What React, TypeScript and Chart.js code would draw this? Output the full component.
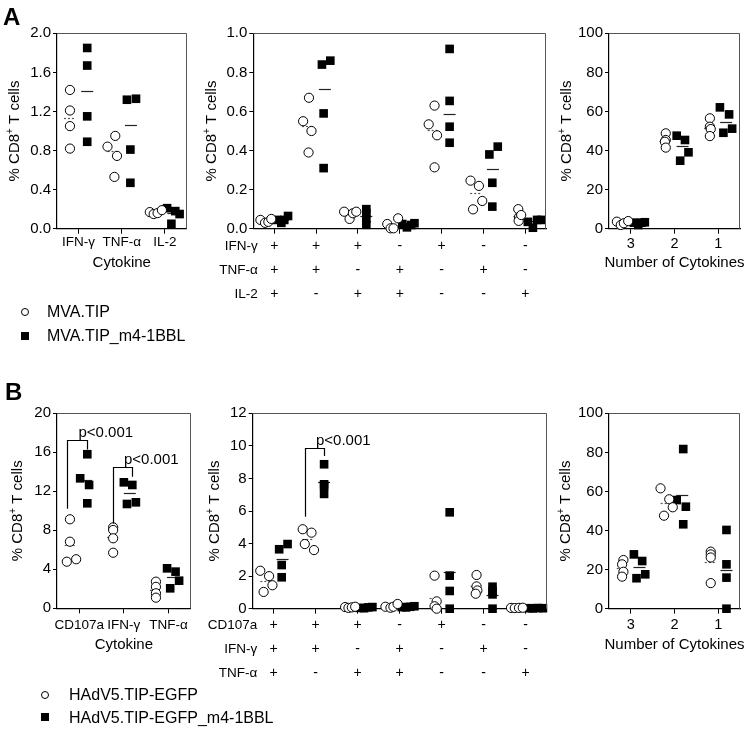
import React, { useEffect, useRef } from 'react';
import { Chart, registerables } from 'chart.js';

Chart.register(...registerables);

const FONT = '"Liberation Sans", Arial, Helvetica, sans-serif';
const W = 750;
const H = 729;

// ---------------- Panel A data ----------------
const aCytokines = ['IFN-γ', 'TNF-α', 'IL-2'];
const aLeftTicks = [0, 0.4, 0.8, 1.2, 1.6, 2.0];
const aLeftOpenY = [[1.42, 1.21, 1.05, 0.82], [0.95, 0.84, 0.745, 0.53], [0.17, 0.15, 0.16, 0.19]];
const aLeftOpenDx = [[-0.2, -0.2, -0.2, -0.2], [-0.15, -0.33, -0.11, -0.17], [-0.35, -0.26, -0.17, -0.07]];
const aLeftFilledY = [[1.85, 1.67, 1.15, 0.89], [1.32, 1.33, 0.81, 0.47], [0.21, 0.05, 0.18, 0.15]];
const aLeftFilledDx = [[0.2, 0.2, 0.2, 0.2], [0.12, 0.33, 0.2, 0.2], [0.05, 0.15, 0.24, 0.34]];

const aComboRowLabels = ['IFN-γ', 'TNF-α', 'IL-2'];
const aComboIFN = ['+', '+', '+', '-', '+', '-', '-'];
const aComboTNF = ['+', '+', '-', '+', '-', '+', '-'];
const aComboIL2 = ['+', '-', '+', '+', '-', '-', '+'];
const aMidTicks = [0, 0.2, 0.4, 0.6, 0.8, 1.0];
const aMidOpenY = [
  [0.045, 0.03, 0.035, 0.05],
  [0.67, 0.55, 0.5, 0.39],
  [0.087, 0.05, 0.079, 0.087],
  [0.024, 0.002, 0.002, 0.053],
  [0.63, 0.534, 0.478, 0.314],
  [0.246, 0.219, 0.142, 0.099],
  [0.1, 0.06, 0.04, 0.07],
];
const aMidOpenDx = [
  [-0.33, -0.22, -0.14, -0.07],
  [-0.17, -0.31, -0.11, -0.18],
  [-0.33, -0.2, -0.12, -0.04],
  [-0.3, -0.22, -0.15, -0.04],
  [-0.17, -0.31, -0.11, -0.17],
  [-0.31, -0.11, -0.03, -0.25],
  [-0.17, -0.15, -0.16, -0.1],
];
const aMidFilledY = [
  [0.045, 0.03, 0.045, 0.065],
  [0.84, 0.86, 0.59, 0.31],
  [0.1, 0.08, 0.05, 0.02],
  [0.024, 0.007, 0.019, 0.028],
  [0.92, 0.654, 0.522, 0.44],
  [0.38, 0.42, 0.235, 0.113],
  [0.035, 0.005, 0.045, 0.045],
];
const aMidFilledDx = [
  [0.07, 0.17, 0.24, 0.33],
  [0.14, 0.34, 0.18, 0.18],
  [0.2, 0.2, 0.2, 0.2],
  [0.06, 0.17, 0.27, 0.35],
  [0.19, 0.19, 0.19, 0.19],
  [0.14, 0.34, 0.21, 0.21],
  [0.06, 0.18, 0.28, 0.38],
];

const cytokineCounts = ['3', '2', '1'];
const pctTicks = [0, 20, 40, 60, 80, 100];
const aRightOpenY = [[3.6, 1.9, 2.8, 3.9], [48.8, 45.4, 44.5, 41.5], [56.5, 52.2, 51.0, 47.4]];
const aRightOpenDx = [[-0.32, -0.23, -0.16, -0.06], [-0.2, -0.2, -0.22, -0.2], [-0.19, -0.19, -0.17, -0.19]];
const aRightFilledY = [[3.1, 1.9, 3.1, 3.3], [47.6, 45.4, 39.1, 34.8], [62.1, 58.5, 51.2, 49.1]];
const aRightFilledDx = [[0.07, 0.17, 0.25, 0.32], [0.05, 0.24, 0.32, 0.13], [0.04, 0.25, 0.32, 0.12]];

// ---------------- Panel B data ----------------
const bMarkers = ['CD107a', 'IFN-γ', 'TNF-α'];
const bLeftTicks = [0, 4, 8, 12, 16, 20];
const bLeftOpenY = [[9.13, 6.83, 4.78, 5.03], [8.3, 8.03, 7.18, 5.7], [2.73, 2.2, 1.54, 1.09]];
const bLeftOpenDx = [[-0.21, -0.21, -0.28, -0.07], [-0.24, -0.24, -0.24, -0.24], [-0.28, -0.28, -0.28, -0.28]];
const bLeftFilledY = [[15.8, 13.33, 12.65, 10.77], [12.92, 12.65, 10.7, 10.87], [4.1, 3.76, 2.83, 2.05]];
const bLeftFilledDx = [[0.18, 0.02, 0.22, 0.18], [0.0, 0.19, 0.07, 0.27], [-0.03, 0.16, 0.24, 0.04]];
const bLeftBracketX = [[-0.28, 0.17], [0.76, 1.19]];
const bLeftBracketY = [[10.2, 17.3, 16.3], [8.7, 14.5, 13.5]];
const pLabel = 'p<0.001';

const bComboRowLabels = ['CD107a', 'IFN-γ', 'TNF-α'];
const bComboCD107a = ['+', '+', '+', '-', '+', '-', '-'];
const bComboIFN = ['+', '+', '-', '+', '-', '+', '-'];
const bComboTNF = ['+', '-', '+', '+', '-', '-', '+'];
const bMidTicks = [0, 2, 4, 6, 8, 10, 12];
const bMidOpenY = [
  [2.33, 2.0, 1.44, 1.03],
  [4.88, 4.67, 3.97, 3.6],
  [0.1, 0.05, 0.08, 0.12],
  [0.12, 0.06, 0.12, 0.29],
  [2.03, 0.45, 0.15, 0.0],
  [2.07, 1.37, 1.12, 0.92],
  [0.05, 0.04, 0.05, 0.06],
];
const bMidOpenDx = [
  [-0.32, -0.11, -0.03, -0.24],
  [-0.31, -0.1, -0.26, -0.04],
  [-0.3, -0.22, -0.14, -0.06],
  [-0.34, -0.22, -0.15, -0.05],
  [-0.17, -0.12, -0.17, -0.12],
  [-0.17, -0.17, -0.15, -0.19],
  [-0.35, -0.26, -0.16, -0.07],
];
const bMidFilledY = [
  [3.65, 3.97, 2.68, 1.93],
  [8.87, 7.64, 7.54, 7.05],
  [0.05, 0.03, 0.08, 0.1],
  [0.1, 0.08, 0.12, 0.15],
  [5.92, 2.03, 1.09, 0.0],
  [1.35, 1.1, 0.88, 0.0],
  [0.03, 0.02, 0.04, 0.03],
];
const bMidFilledDx = [
  [0.13, 0.33, 0.19, 0.19],
  [0.2, 0.2, 0.2, 0.2],
  [0.05, 0.15, 0.25, 0.35],
  [0.05, 0.15, 0.25, 0.35],
  [0.19, 0.19, 0.19, 0.19],
  [0.21, 0.21, 0.21, 0.21],
  [0.08, 0.17, 0.29, 0.41],
];
const bMidBracketX = [[0.74, 1.2]];
const bMidBracketY = [[5.65, 9.85, 9.38]];

const bRightOpenY = [[24.9, 22.7, 18.9, 16.4], [61.6, 56.0, 51.9, 47.6], [29.2, 27.8, 26.2, 13.1]];
const bRightOpenDx = [[-0.17, -0.2, -0.17, -0.2], [-0.32, -0.12, -0.04, -0.24], [-0.17, -0.17, -0.17, -0.17]];
const bRightFilledY = [[27.8, 24.4, 15.6, 17.6], [81.7, 55.6, 52.2, 43.2], [40.3, 22.7, 15.9, 0.0]];
const bRightFilledDx = [[0.07, 0.26, 0.13, 0.33], [0.2, 0.05, 0.26, 0.2], [0.19, 0.19, 0.19, 0.19]];

const legendA = ['MVA.TIP', 'MVA.TIP_m4-1BBL'];
const legendB = ['HAdV5.TIP-EGFP', 'HAdV5.TIP-EGFP_m4-1BBL'];
const yTitleMain = '% CD8';
const yTitleSup = '+';
const yTitleRest = ' T cells';
const xTitleCytokine = 'Cytokine';
const xTitleNumber = 'Number of Cytokines';

type Spec = {
  area: [number, number, number, number];
  n: number;
  catLabels?: string[];
  labelY?: number;
  labelSize?: number;
  xTitle?: string;
  xTitleY?: number;
  rows?: { labels: string[]; signs: string[][]; start: number; gap: number };
  yTicks: number[];
  yDec: number;
  yTitleX: number;
  openY: number[][];
  openDx: number[][];
  filledY: number[][];
  filledDx: number[][];
  center: 'median' | 'mean';
  bracketX?: number[][];
  bracketY?: number[][];
};

const specs: Spec[] = [
  {
    area: [57, 33.3, 186.5, 228.7], n: 3, catLabels: aCytokines, labelY: 242, labelSize: 13.5,
    xTitle: xTitleCytokine, xTitleY: 262.5, yTicks: aLeftTicks, yDec: 1, yTitleX: 15,
    openY: aLeftOpenY, openDx: aLeftOpenDx, filledY: aLeftFilledY, filledDx: aLeftFilledDx, center: 'median',
  },
  {
    area: [253.3, 33.3, 546.3, 228.7], n: 7,
    rows: { labels: aComboRowLabels, signs: [aComboIFN, aComboTNF, aComboIL2], start: 17.5, gap: 24 },
    yTicks: aMidTicks, yDec: 1, yTitleX: 212,
    openY: aMidOpenY, openDx: aMidOpenDx, filledY: aMidFilledY, filledDx: aMidFilledDx, center: 'median',
  },
  {
    area: [609, 33.3, 740, 228.7], n: 3, catLabels: cytokineCounts, labelY: 244, labelSize: 14.5,
    xTitle: xTitleNumber, xTitleY: 263, yTicks: pctTicks, yDec: 0, yTitleX: 567,
    openY: aRightOpenY, openDx: aRightOpenDx, filledY: aRightFilledY, filledDx: aRightFilledDx, center: 'median',
  },
  {
    area: [57, 413.3, 190.7, 608.3], n: 3, catLabels: bMarkers, labelY: 625, labelSize: 13.5,
    xTitle: xTitleCytokine, xTitleY: 645, yTicks: bLeftTicks, yDec: 0, yTitleX: 18,
    openY: bLeftOpenY, openDx: bLeftOpenDx, filledY: bLeftFilledY, filledDx: bLeftFilledDx, center: 'mean',
    bracketX: bLeftBracketX, bracketY: bLeftBracketY,
  },
  {
    area: [252.7, 413.3, 546.7, 608.7], n: 7,
    rows: { labels: bComboRowLabels, signs: [bComboCD107a, bComboIFN, bComboTNF], start: 16.5, gap: 23.8 },
    yTicks: bMidTicks, yDec: 0, yTitleX: 215,
    openY: bMidOpenY, openDx: bMidOpenDx, filledY: bMidFilledY, filledDx: bMidFilledDx, center: 'mean',
    bracketX: bMidBracketX, bracketY: bMidBracketY,
  },
  {
    area: [609, 413.3, 740, 608.7], n: 3, catLabels: cytokineCounts, labelY: 625, labelSize: 14.5,
    xTitle: xTitleNumber, xTitleY: 645, yTicks: pctTicks, yDec: 0, yTitleX: 566,
    openY: bRightOpenY, openDx: bRightOpenDx, filledY: bRightFilledY, filledDx: bRightFilledDx, center: 'mean',
  },
];

const avg = (a: number[]) => a.reduce((s, v) => s + v, 0) / a.length;
const median = (a: number[]) => {
  const s = [...a].sort((p, q) => p - q);
  const m = Math.floor(s.length / 2);
  return s.length % 2 ? s[m] : (s[m - 1] + s[m]) / 2;
};

function makeChart(canvas: HTMLCanvasElement, s: Spec) {
  const [L, T, R, B] = s.area;
  const YW = 50;
  const XH = 30;
  const toPts = (ys: number[][], dxs: number[][]) =>
    ys.flatMap((col, i) => col.map((v, j) => ({ x: i + dxs[i][j], y: v })));

  const decor = {
    id: 'decor',
    beforeDatasetsDraw(chart: any) {
      const ctx = chart.ctx;
      const xs = chart.scales.x;
      const ys = chart.scales.y;
      const groups: [number[][], number[][], boolean][] = [
        [s.openY, s.openDx, true],
        [s.filledY, s.filledDx, false],
      ];
      ctx.save();
      for (const [yv, dx, dashed] of groups) {
        yv.forEach((col, i) => {
          const v = s.center === 'mean' ? avg(col) : median(col);
          const px = xs.getPixelForValue(i + avg(dx[i]));
          const py = Math.round(ys.getPixelForValue(v)) + 0.5;
          ctx.beginPath();
          ctx.setLineDash(dashed ? [2, 2] : []);
          ctx.strokeStyle = dashed ? '#555' : '#222';
          ctx.lineWidth = 1.2;
          ctx.moveTo(px - 6, py);
          ctx.lineTo(px + 6, py);
          ctx.stroke();
        });
      }
      ctx.restore();
    },
    afterDraw(chart: any) {
      const ctx = chart.ctx;
      const xs = chart.scales.x;
      const ys = chart.scales.y;
      const ca = chart.chartArea;
      ctx.save();
      // frame top/right
      ctx.beginPath();
      ctx.strokeStyle = '#555';
      ctx.lineWidth = 1;
      const t = Math.round(ca.top) + 0.5;
      const r = Math.round(ca.right) - 0.5;
      ctx.moveTo(ca.left, t);
      ctx.lineTo(r, t);
      ctx.lineTo(r, ca.bottom);
      ctx.stroke();

      ctx.fillStyle = '#000';
      // y title
      ctx.save();
      ctx.translate(s.yTitleX, (ca.top + ca.bottom) / 2);
      ctx.rotate(-Math.PI / 2);
      const mainF = `15px ${FONT}`;
      const supF = `10px ${FONT}`;
      ctx.font = mainF;
      const w1 = ctx.measureText(yTitleMain).width;
      const w3 = ctx.measureText(yTitleRest).width;
      ctx.font = supF;
      const w2 = ctx.measureText(yTitleSup).width;
      let x = -(w1 + w2 + w3) / 2;
      ctx.textBaseline = 'middle';
      ctx.textAlign = 'left';
      ctx.font = mainF;
      ctx.fillText(yTitleMain, x, 0);
      x += w1;
      ctx.font = supF;
      ctx.fillText(yTitleSup, x, -5);
      x += w2;
      ctx.font = mainF;
      ctx.fillText(yTitleRest, x, 0);
      ctx.restore();

      // category labels
      ctx.textBaseline = 'middle';
      if (s.catLabels) {
        ctx.font = `${s.labelSize}px ${FONT}`;
        ctx.textAlign = 'center';
        s.catLabels.forEach((lab, i) => ctx.fillText(lab, xs.getPixelForValue(i), s.labelY));
      }
      if (s.xTitle) {
        ctx.font = `15px ${FONT}`;
        ctx.textAlign = 'center';
        ctx.fillText(s.xTitle, (ca.left + ca.right) / 2, s.xTitleY);
      }
      if (s.rows) {
        const rows = s.rows;
        rows.labels.forEach((lab, rI) => {
          const y = ca.bottom + rows.start + rI * rows.gap;
          ctx.font = `13.5px ${FONT}`;
          ctx.textAlign = 'right';
          ctx.fillText(lab, ca.left + 4.5, y);
          ctx.font = `14px ${FONT}`;
          ctx.textAlign = 'center';
          rows.signs[rI].forEach((sg, i) => ctx.fillText(sg, xs.getPixelForValue(i), y));
        });
      }
      if (s.bracketX && s.bracketY) {
        ctx.strokeStyle = '#000';
        ctx.lineWidth = 1.2;
        s.bracketX.forEach((bx, k) => {
          const by = s.bracketY![k];
          const x1 = Math.round(xs.getPixelForValue(bx[0])) + 0.5;
          const x2 = Math.round(xs.getPixelForValue(bx[1])) + 0.5;
          const yTop = Math.round(ys.getPixelForValue(by[1])) + 0.5;
          ctx.beginPath();
          ctx.moveTo(x1, ys.getPixelForValue(by[0]));
          ctx.lineTo(x1, yTop);
          ctx.lineTo(x2, yTop);
          ctx.lineTo(x2, ys.getPixelForValue(by[2]));
          ctx.stroke();
          ctx.font = `15px ${FONT}`;
          ctx.textAlign = 'left';
          ctx.textBaseline = 'alphabetic';
          ctx.fillText(pLabel, (x1 + x2) / 2 + 1, yTop - 4);
        });
      }
      ctx.restore();
    },
  };

  const yMax = s.yTicks[s.yTicks.length - 1];
  return new Chart(canvas, {
    type: 'scatter',
    data: {
      datasets: [
        {
          data: toPts(s.openY, s.openDx),
          pointStyle: 'circle',
          pointRadius: 4.6,
          pointHoverRadius: 4.6,
          pointBackgroundColor: '#fff',
          pointBorderColor: '#000',
          pointBorderWidth: 1,
          clip: false,
        } as any,
        {
          data: toPts(s.filledY, s.filledDx),
          pointStyle: 'rect',
          pointRadius: 6.1,
          pointHoverRadius: 6.1,
          pointBackgroundColor: '#000',
          pointBorderColor: '#000',
          pointBorderWidth: 0,
          clip: false,
        } as any,
      ],
    },
    options: {
      animation: false,
      responsive: false,
      events: [],
      layout: { padding: { left: L - YW, top: T, right: W - R, bottom: H - B - XH } },
      plugins: { legend: { display: false }, tooltip: { enabled: false } },
      scales: {
        x: {
          type: 'linear',
          min: -0.5,
          max: s.n - 0.5,
          afterBuildTicks: (sc: any) => {
            sc.ticks = Array.from({ length: s.n }, (_, i) => ({ value: i }));
          },
          afterFit: (sc: any) => {
            sc.height = XH;
          },
          ticks: { display: false },
          grid: { display: true, drawOnChartArea: false, drawTicks: true, tickLength: 5, color: '#000', lineWidth: 1 },
          border: { display: true, color: '#000', width: 1.2 },
        },
        y: {
          type: 'linear',
          min: 0,
          max: yMax,
          afterBuildTicks: (sc: any) => {
            sc.ticks = s.yTicks.map((v) => ({ value: v }));
          },
          afterFit: (sc: any) => {
            sc.width = YW;
          },
          ticks: {
            autoSkip: false,
            color: '#000',
            padding: 2,
            font: { family: FONT, size: 15 },
            callback: (v: any) => Number(v).toFixed(s.yDec),
          },
          grid: { display: true, drawOnChartArea: false, drawTicks: true, tickLength: 4, color: '#000', lineWidth: 1 },
          border: { display: true, color: '#000', width: 1.2 },
        },
      },
    } as any,
    plugins: [decor],
  });
}

const abs = (l: number, t: number): React.CSSProperties => ({ position: 'absolute', left: l, top: t });
const txt: React.CSSProperties = { fontFamily: FONT, fontSize: 16, lineHeight: '16px', whiteSpace: 'nowrap', color: '#000' };
const circ: React.CSSProperties = { width: 8, height: 8, border: '1px solid #000', borderRadius: '50%', boxSizing: 'border-box', background: '#fff' };
const sq: React.CSSProperties = { width: 8, height: 8, background: '#000' };
const letter: React.CSSProperties = { fontFamily: FONT, fontSize: 24, lineHeight: '24px', fontWeight: 'bold', color: '#000' };

export default function App() {
  const refs = useRef<(HTMLCanvasElement | null)[]>([]);
  useEffect(() => {
    const charts = specs.map((s, i) => makeChart(refs.current[i] as HTMLCanvasElement, s));
    return () => charts.forEach((c) => c.destroy());
  }, []);
  return (
    <div style={{ position: 'absolute', left: 0, top: 0, width: W, height: H, background: '#fff', overflow: 'hidden' }}>
      {specs.map((_, i) => (
        <canvas
          key={i}
          ref={(el) => {
            refs.current[i] = el;
          }}
          width={W}
          height={H}
          style={{ position: 'absolute', left: 0, top: 0, width: W, height: H }}
        />
      ))}
      <div style={{ ...abs(3, 5), ...letter }}>A</div>
      <div style={{ ...abs(5, 380), ...letter }}>B</div>
      <div style={{ ...abs(21, 307.7), ...circ }} />
      <div style={{ ...abs(21, 332), ...sq }} />
      <div style={{ ...abs(47, 303.8), ...txt }}>{legendA[0]}</div>
      <div style={{ ...abs(47, 328.2), ...txt }}>{legendA[1]}</div>
      <div style={{ ...abs(41, 691), ...circ }} />
      <div style={{ ...abs(41, 713.3), ...sq }} />
      <div style={{ ...abs(69, 687.2), ...txt }}>{legendB[0]}</div>
      <div style={{ ...abs(69, 709.5), ...txt }}>{legendB[1]}</div>
    </div>
  );
}
